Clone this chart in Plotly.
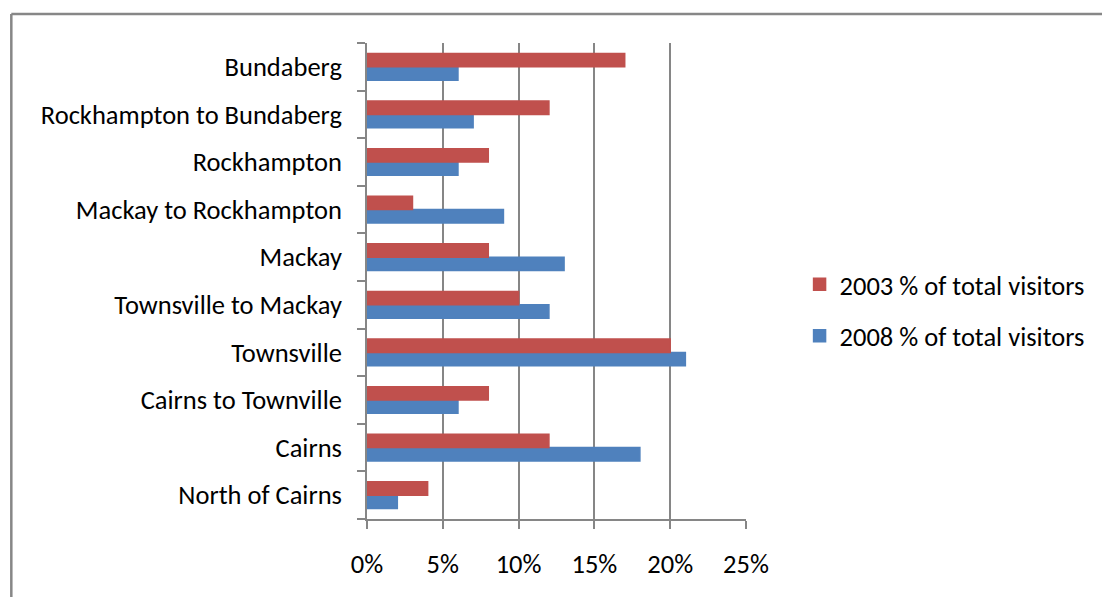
import plotly.graph_objects as go

categories = ["North of Cairns", "Cairns", "Cairns to Townville", "Townsville",
              "Townsville to Mackay", "Mackay", "Mackay to Rockhampton",
              "Rockhampton", "Rockhampton to Bundaberg", "Bundaberg"]
visitors_2003 = [4, 12, 8, 20, 10, 8, 3, 8, 12, 17]
visitors_2008 = [2, 18, 6, 21, 12, 13, 9, 6, 7, 6]
x_ticks = [0, 5, 10, 15, 20, 25]
x_tick_labels = ["0%", "5%", "10%", "15%", "20%", "25%"]

FONT = "Carlito, Calibri, Lato, sans-serif"
GRAY = "#868686"
FS = 26.5

W, H = 1102, 597
L, R, T, B = 367, 749, 43, 519

fig = go.Figure()
fig.add_trace(go.Bar(y=categories, x=visitors_2008, orientation="h",
                     name="2008 % of total visitors", legendgroup="b", legendrank=2,
                     marker=dict(color="#4F81BD", line=dict(width=1.5, color="#4F81BD"))))
fig.add_trace(go.Bar(y=categories, x=visitors_2003, orientation="h",
                     name="2003 % of total visitors", legendgroup="a", legendrank=1,
                     marker=dict(color="#C0504D", line=dict(width=1.5, color="#C0504D"))))

def px_x(px):
    return (px - L) / (R - L)

def px_y(py):
    return (B - py) / (B - T)

fig.add_shape(type="line", xref="paper", yref="paper",
              x0=px_x(8.5), x1=px_x(1110), y0=px_y(14), y1=px_y(14),
              line=dict(color="#878787", width=2.5))
fig.add_shape(type="line", xref="paper", yref="paper",
              x0=px_x(8.5), x1=px_x(8.5), y0=px_y(14), y1=px_y(610),
              line=dict(color="#878787", width=2.5))

fig.update_layout(
    width=W, height=H,
    margin=dict(l=L, r=W - R, t=T, b=H - B, pad=0),
    paper_bgcolor="white", plot_bgcolor="white",
    barmode="group", bargap=0.44, bargroupgap=0,
    font=dict(family=FONT, size=FS, color="black"),
    showlegend=True,
    legend=dict(traceorder="grouped", tracegroupgap=14,
                x=px_x(803), xanchor="left", y=px_y(310), yanchor="middle",
                font=dict(family=FONT, size=FS, color="black"),
                bgcolor="rgba(0,0,0,0)"),
    xaxis=dict(range=[0, 25], tickvals=x_ticks, ticktext=x_tick_labels,
               showgrid=True, gridcolor=GRAY, gridwidth=1.5,
               showline=True, linecolor=GRAY, linewidth=1.5,
               ticks="outside", ticklen=8, tickcolor=GRAY, tickwidth=1.5,
               ticklabelstandoff=12, zeroline=False, fixedrange=True),
    yaxis=dict(type="category", categoryorder="array", categoryarray=categories,
               showgrid=False, showline=True, linecolor=GRAY, linewidth=1.5,
               ticks="outside", ticklen=8, tickcolor=GRAY, tickwidth=1.5,
               tickson="boundaries", ticklabelstandoff=18, fixedrange=True),
)

fig.write_html("out.html", config={"displayModeBar": False},
               post_script="document.body.style.margin='0';document.body.style.overflow='hidden';")
